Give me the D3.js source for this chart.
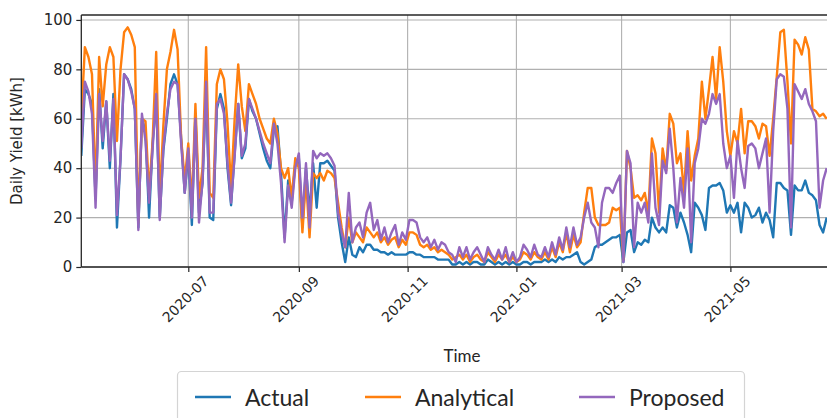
<!DOCTYPE html>
<html>
<head>
<meta charset="utf-8">
<script src="https://cdn.jsdelivr.net/npm/d3@7"></script>
<style>
  html, body { margin: 0; padding: 0; background: #fff; }
  svg { display: block; }
</style>
</head>
<body>
<svg id="chart" width="827" height="418"></svg>
<script>
// Daily yield samples, one every two days starting 2020-05-02
const startDate = "2020-05-02";
const stepDays = 2;

const actual = [
  45, 72, 70, 66, 28, 72, 48, 67, 40, 70, 16, 44, 78, 76, 72, 64, 16, 60, 55, 20, 50, 68, 20, 47, 60, 74,
  78, 74, 52, 30, 46, 17, 62, 22, 34, 73, 20, 19, 64, 70, 64, 40, 25, 46, 66, 44, 48, 68, 63, 60, 54, 48,
  43, 40, 56, 57, 38, 12, 35, 26, 42, 44, 16, 40, 22, 42, 24, 42, 42, 43, 41, 39, 20, 10, 2, 12, 5, 4,
  8, 6, 9, 9, 7, 7, 6, 6, 5, 6, 5, 5, 5, 5, 6, 6, 5, 5, 4, 4, 4, 4, 3, 3, 3, 3,
  1, 1, 2, 1, 2, 1, 2, 2, 1, 1, 3, 2, 1, 2, 1, 2, 1, 2, 1, 1, 2, 2, 1, 2, 2,
  2, 3, 2, 3, 2, 4, 3, 4, 4, 5, 6, 2, 1, 2, 3, 8, 9, 9, 10, 11, 12, 12, 13, 2, 14, 15,
  6, 10, 9, 11, 10, 20, 16, 14, 16, 14, 25, 24, 16, 22, 18, 13, 6, 26, 24, 21, 15, 32, 33, 33, 34, 31,
  22, 25, 22, 26, 14, 26, 24, 20, 21, 24, 18, 22, 19, 12, 34, 34, 32, 31, 13, 33, 31, 31, 35, 30, 29, 27, 17, 14, 20
];

const analytical = [
  60, 89, 85, 78, 30, 85, 65, 82, 89, 85, 51, 80, 95, 97, 94, 89, 18, 60, 59, 30, 51, 87, 28, 57, 80, 87,
  96, 88, 52, 35, 50, 25, 66, 28, 40, 89, 30, 28, 74, 80, 76, 58, 32, 60, 82, 65, 55, 74, 70, 66, 60, 56,
  52, 50, 60, 54, 40, 36, 40, 28, 44, 40, 14, 36, 12, 38, 36, 38, 35, 39, 38, 36, 26, 16, 8, 20, 10, 14,
  12, 10, 16, 14, 12, 14, 10, 12, 9, 11, 12, 8, 11, 9, 14, 14, 13, 9, 8, 9, 7, 8, 6, 7, 6, 5,
  3, 4, 5, 3, 5, 2, 4, 5, 3, 2, 6, 4, 2, 5, 3, 5, 2, 4, 2, 3, 6, 5, 3, 6, 4,
  3, 6, 3, 8, 4, 10, 6, 14, 6, 13, 8, 10, 22, 32, 32, 20, 17, 17, 17, 18, 24, 23, 24, 3, 47, 40,
  28, 29, 27, 30, 22, 52, 46, 22, 48, 39, 62, 58, 42, 46, 30, 55, 35, 45, 52, 75, 60, 72, 85, 68, 89, 75,
  55, 45, 55, 50, 64, 46, 59, 59, 57, 52, 58, 57, 45, 60, 77, 95, 96, 75, 50, 92, 90, 86, 93, 88, 64, 63, 61, 62, 60
];

const proposed = [
  48, 75, 71, 62, 24, 70, 51, 67, 43, 68, 21, 44, 78, 76, 71, 64, 15, 62, 51, 26, 48, 70, 19, 48, 62, 72,
  75, 74, 50, 30, 48, 20, 60, 18, 35, 75, 22, 22, 66, 68, 62, 42, 26, 45, 66, 45, 50, 68, 64, 60, 55, 50,
  46, 42, 58, 50, 34, 10, 33, 24, 40, 46, 20, 42, 16, 47, 44, 46, 45, 46, 44, 41, 22, 14, 8, 30, 10, 16,
  18, 12, 22, 26, 15, 19, 11, 16, 10, 14, 17, 9, 14, 11, 19, 19, 18, 12, 10, 12, 8, 11, 7, 10, 9, 6,
  5, 2, 8, 4, 8, 3, 6, 8, 5, 2, 8, 5, 3, 7, 3, 8, 2, 6, 2, 4, 9, 7, 4, 9, 5,
  4, 8, 4, 10, 5, 12, 7, 16, 8, 16, 9, 12, 20, 26, 18, 16, 8, 26, 32, 32, 30, 34, 37, 2, 47, 42,
  8, 26, 22, 26, 18, 46, 24, 17, 43, 38, 56, 40, 18, 36, 24, 48, 10, 42, 48, 60, 58, 62, 70, 66, 70, 50,
  40, 45, 28, 51, 40, 32, 49, 50, 48, 40, 46, 52, 22, 55, 76, 78, 77, 64, 16, 74, 71, 68, 72, 66, 63, 59, 24, 35, 40
];

const seriesNames = ["Actual", "Analytical", "Proposed"];
const xTickLabels = ["2020-07", "2020-09", "2020-11", "2021-01", "2021-03", "2021-05"];
const yTicks = [0, 20, 40, 60, 80, 100];

const colors = ["#1f77b4", "#ff7f0e", "#9467bd"];

const svg = d3.select("#chart");
const parseDay = d3.utcParse("%Y-%m-%d");
const parseMonth = d3.utcParse("%Y-%m");
const t0 = parseDay(startDate);
const dates = actual.map((_, i) => d3.utcDay.offset(t0, i * stepDays));

// plot frame
const plotLeft = 81.3, plotTop = 15, plotBottom = 267;
const pxPerDay = 1.7832;
const xEnd = parseDay("2021-07-01");
const x = d3.scaleUtc()
  .domain([t0, xEnd])
  .range([plotLeft, plotLeft + d3.utcDay.count(t0, xEnd) * pxPerDay]);
const y = d3.scaleLinear().domain([0, 102]).range([plotBottom, plotTop]);
const plotRight = x.range()[1];

const xTickDates = xTickLabels.map(parseMonth);

// grid
const grid = svg.append("g").attr("stroke", "#b0b0b0").attr("stroke-width", 1.1);
grid.selectAll("line.gx").data(xTickDates).join("line")
  .attr("x1", d => x(d)).attr("x2", d => x(d))
  .attr("y1", plotTop).attr("y2", plotBottom);
grid.selectAll("line.gy").data(yTicks).join("line")
  .attr("x1", plotLeft).attr("x2", plotRight)
  .attr("y1", d => y(d)).attr("y2", d => y(d));

// series
const seriesData = [actual, analytical, proposed];
const line = d3.line()
  .x((d, i) => x(dates[i]))
  .y(d => y(d));
svg.append("clipPath").attr("id", "plotclip")
  .append("rect").attr("x", plotLeft).attr("y", plotTop)
  .attr("width", plotRight - plotLeft).attr("height", plotBottom - plotTop);
svg.append("g").attr("clip-path", "url(#plotclip)")
  .selectAll("path").data(seriesData).join("path")
  .attr("d", d => line(d))
  .attr("fill", "none")
  .attr("stroke", (d, i) => colors[i])
  .attr("stroke-width", 2.4)
  .attr("stroke-linejoin", "round");

// axes
const xAxis = d3.axisBottom(x).tickValues(xTickDates).tickSize(5).tickFormat(() => "");
const gx = svg.append("g").attr("transform", `translate(0,${plotBottom})`).call(xAxis);
gx.select(".domain").remove();
gx.selectAll(".tick line").attr("stroke", "#262626").attr("stroke-width", 1.2);

const yAxis = d3.axisLeft(y).tickValues(yTicks).tickSize(5).tickFormat(d3.format("d"));
const gy = svg.append("g").attr("transform", `translate(${plotLeft},0)`).call(yAxis);
gy.select(".domain").remove();
gy.selectAll(".tick line").attr("stroke", "#262626").attr("stroke-width", 1.2);
gy.selectAll(".tick text")
  .attr("x", -9)
  .attr("font-family", "DejaVu Sans, sans-serif")
  .attr("font-size", 15)
  .attr("fill", "#262626");

// rotated date labels
const fmt = d3.utcFormat("%Y-%m");
svg.append("g").selectAll("text").data(xTickDates).join("text")
  .attr("transform", d => `translate(${x(d) - 3},${plotBottom + 32}) rotate(-45)`)
  .attr("text-anchor", "middle")
  .attr("dominant-baseline", "central")
  .attr("font-family", "DejaVu Sans, sans-serif")
  .attr("font-size", 14)
  .attr("fill", "#262626")
  .text(d => fmt(d));

// spines
const spines = svg.append("g").attr("stroke", "#262626").attr("stroke-width", 1.3).attr("fill", "none");
spines.append("line").attr("x1", plotLeft).attr("x2", plotLeft).attr("y1", plotTop).attr("y2", plotBottom);
spines.append("line").attr("x1", plotLeft).attr("x2", plotRight).attr("y1", plotBottom).attr("y2", plotBottom);
spines.append("line").attr("x1", plotLeft).attr("x2", plotRight).attr("y1", plotTop).attr("y2", plotTop);

// axis titles
svg.append("text")
  .attr("transform", "translate(22,141) rotate(-90)")
  .attr("text-anchor", "middle")
  .attr("font-family", "DejaVu Sans, sans-serif")
  .attr("font-size", 15)
  .attr("fill", "#262626")
  .text("Daily Yield [kWh]");

svg.append("text")
  .attr("x", 462).attr("y", 362)
  .attr("text-anchor", "middle")
  .attr("font-family", "Lato, sans-serif")
  .attr("font-size", 17)
  .attr("fill", "#262626")
  .text("Time");

// legend
const legend = svg.append("g");
legend.append("rect")
  .attr("x", 177.5).attr("y", 371.5).attr("width", 567).attr("height", 60)
  .attr("rx", 4).attr("fill", "#fff").attr("stroke", "#d4d4d4").attr("stroke-width", 1.2);
const legendX = [195, 365, 579];
const items = legend.selectAll("g.item").data(seriesNames).join("g")
  .attr("transform", (d, i) => `translate(${legendX[i]},397)`);
items.append("line")
  .attr("x1", 0).attr("x2", 36).attr("y1", 0).attr("y2", 0)
  .attr("stroke", (d, i) => colors[i]).attr("stroke-width", 2.4);
items.append("text")
  .attr("x", 50).attr("y", 0)
  .attr("dominant-baseline", "central")
  .attr("font-family", "Lato, sans-serif")
  .attr("font-size", 23)
  .attr("fill", "#262626")
  .text(d => d);
</script>
</body>
</html>
